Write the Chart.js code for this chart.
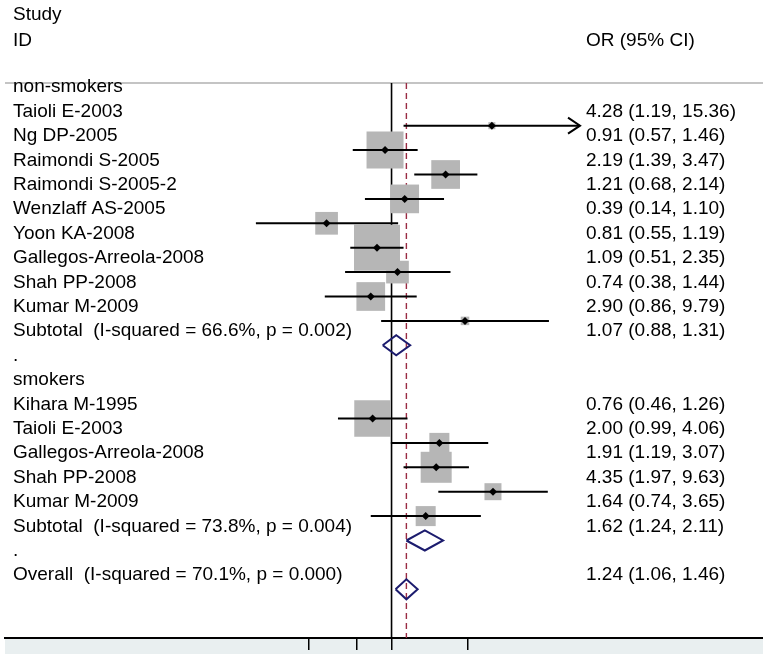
<!DOCTYPE html>
<html><head><meta charset="utf-8">
<script src="https://cdn.jsdelivr.net/npm/chart.js@4/dist/chart.umd.min.js"></script>
<style>html,body{margin:0;padding:0;background:#fff;}</style>
</head><body>
<canvas id="c" width="763" height="654"></canvas>
<script>
// ---- data ----
const groupLabels = ['non-smokers', 'smokers'];
const nsStudies = ['Taioli E-2003','Ng DP-2005','Raimondi S-2005','Raimondi S-2005-2','Wenzlaff AS-2005','Yoon KA-2008','Gallegos-Arreola-2008','Shah PP-2008','Kumar M-2009'];
const nsOR = [4.28, 0.91, 2.19, 1.21, 0.39, 0.81, 1.09, 0.74, 2.90];
const nsLo = [1.19, 0.57, 1.39, 0.68, 0.14, 0.55, 0.51, 0.38, 0.86];
const nsHi = [15.36, 1.46, 3.47, 2.14, 1.10, 1.19, 2.35, 1.44, 9.79];
const nsWeight = [0.47, 13.03, 7.84, 7.84, 4.90, 20.14, 4.90, 7.84, 0.69];
const smStudies = ['Kihara M-1995','Taioli E-2003','Gallegos-Arreola-2008','Shah PP-2008','Kumar M-2009'];
const smOR = [0.76, 2.00, 1.91, 4.35, 1.64];
const smLo = [0.46, 0.99, 1.19, 1.97, 0.74];
const smHi = [1.26, 4.06, 3.07, 9.63, 3.65];
const smWeight = [12.82, 3.81, 9.15, 2.75, 3.81];
const pooledLabels = ['Subtotal  (I-squared = 66.6%, p = 0.002)', 'Subtotal  (I-squared = 73.8%, p = 0.004)', 'Overall  (I-squared = 70.1%, p = 0.000)'];
const pooledOR = [1.07, 1.62, 1.24];
const pooledLo = [0.88, 1.24, 1.06];
const pooledHi = [1.31, 2.11, 1.46];
const xTicks = [0.3, 0.6, 1, 3];
const headers = ['Study', 'ID', 'OR (95% CI)'];
const xLimit = 15.36; // upper end of the plotted CI range (arrow beyond)

// ---- layout / style constants ----
const FONT = '19px "Liberation Sans", Arial, sans-serif';
const xMin = 0.003688, xMax = 217.9;
const yTop = -0.1066, yBottom = 22.639;
const markOffset = 0.643;
const diamondHalf = 0.41;
const boxK = 10.25;

// ---- build rows ----
const rows = [];
rows.push({text: groupLabels[0]});
nsStudies.forEach((s, i) => rows.push({text: s, or: nsOR[i], lo: nsLo[i], hi: nsHi[i], w: nsWeight[i], kind: 'study'}));
rows.push({text: pooledLabels[0], or: pooledOR[0], lo: pooledLo[0], hi: pooledHi[0], kind: 'pooled'});
rows.push({text: '.'});
rows.push({text: groupLabels[1]});
smStudies.forEach((s, i) => rows.push({text: s, or: smOR[i], lo: smLo[i], hi: smHi[i], w: smWeight[i], kind: 'study'}));
rows.push({text: pooledLabels[1], or: pooledOR[1], lo: pooledLo[1], hi: pooledHi[1], kind: 'pooled'});
rows.push({text: '.'});
rows.push({text: pooledLabels[2], or: pooledOR[2], lo: pooledLo[2], hi: pooledHi[2], kind: 'pooled'});

const datasets = [];
// reference lines
datasets.push({data: [{x: 1, y: yTop}, {x: 1, y: yBottom}], showLine: true, borderColor: '#000', borderWidth: 1.6, pointRadius: 0, order: 10});
datasets.push({data: [{x: pooledOR[2], y: yTop}, {x: pooledOR[2], y: yBottom}], showLine: true, borderColor: '#9a2c44', borderWidth: 1.4, borderDash: [6, 4], pointRadius: 0, order: 9});
// boxes
const boxData = [], boxRad = [], ptData = [];
rows.forEach((r, i) => {
  if (r.kind === 'study') {
    boxData.push({x: r.or, y: i + markOffset});
    boxRad.push(boxK * Math.sqrt(r.w) / Math.SQRT2);
    ptData.push({x: r.or, y: i + markOffset});
  }
});
datasets.push({data: boxData, pointStyle: 'rect', pointRadius: boxRad, backgroundColor: '#b6b6b6', borderWidth: 0, showLine: false, order: 8});
// CI lines
rows.forEach((r, i) => {
  if (r.kind === 'study') {
    datasets.push({data: [{x: r.lo, y: i + markOffset}, {x: Math.min(r.hi, xLimit), y: i + markOffset}], showLine: true, borderColor: '#000', borderWidth: 2, pointRadius: 0, order: 7});
  }
});
// point estimates
datasets.push({data: ptData, pointStyle: 'rectRot', pointRadius: 4, backgroundColor: '#000', borderWidth: 0, showLine: false, order: 6});
// pooled diamonds
rows.forEach((r, i) => {
  if (r.kind === 'pooled') {
    const y = i + markOffset;
    datasets.push({data: [{x: r.lo, y: y}, {x: r.or, y: y - diamondHalf}, {x: r.hi, y: y}, {x: r.or, y: y + diamondHalf}, {x: r.lo, y: y}],
      showLine: true, borderColor: '#1c1c6e', borderWidth: 2, pointRadius: 0, order: 5});
  }
});

const decor = {
  id: 'decor',
  beforeDraw(chart) {
    const {ctx, chartArea: a} = chart;
    ctx.save();
    ctx.fillStyle = '#e9eff0';
    ctx.fillRect(a.left, a.bottom, a.right - a.left, chart.height - a.bottom);
    ctx.strokeStyle = '#b0b0b0';
    ctx.lineWidth = 1.5;
    ctx.beginPath(); ctx.moveTo(a.left, a.top); ctx.lineTo(a.right, a.top); ctx.stroke();
    ctx.restore();
  },
  afterDatasetsDraw(chart) {
    const {ctx} = chart;
    const xs = chart.scales.x, ys = chart.scales.y;
    ctx.save();
    ctx.strokeStyle = '#000'; ctx.lineWidth = 2;
    rows.forEach((r, i) => {
      if (r.kind === 'study' && r.hi >= xLimit) {
        const px = xs.getPixelForValue(xLimit), py = ys.getPixelForValue(i + markOffset);
        ctx.beginPath();
        ctx.moveTo(px - 12, py - 8); ctx.lineTo(px, py); ctx.lineTo(px - 12, py + 8);
        ctx.stroke();
      }
    });
    ctx.restore();
  },
  afterDraw(chart) {
    const {ctx} = chart;
    const ys = chart.scales.y;
    ctx.save();
    ctx.font = FONT; ctx.fillStyle = '#000'; ctx.textBaseline = 'alphabetic'; ctx.textAlign = 'left';
    ctx.fillText(headers[0], 13, 20);
    ctx.fillText(headers[1], 13, 46);
    ctx.fillText(headers[2], 586, 46);
    rows.forEach((r, i) => {
      const y = ys.getPixelForValue(i) + 6.8;
      ctx.fillText(r.text, 13, y);
      if (r.or !== undefined) {
        ctx.fillText(r.or.toFixed(2) + ' (' + r.lo.toFixed(2) + ', ' + r.hi.toFixed(2) + ')', 586, y);
      }
    });
    ctx.restore();
  }
};

new Chart(document.getElementById('c'), {
  type: 'scatter',
  data: {datasets},
  options: {
    responsive: false, animation: false, events: [],
    layout: {autoPadding: false, padding: {left: 5, right: 0, top: 83, bottom: 4}},
    plugins: {legend: {display: false}, tooltip: {enabled: false}},
    scales: {
      x: {type: 'logarithmic', position: 'bottom', min: xMin, max: xMax,
        afterBuildTicks: (s) => { s.ticks = xTicks.map(v => ({value: v})); },
        ticks: {display: false},
        grid: {drawOnChartArea: false, drawTicks: true, tickLength: 12, color: '#000', lineWidth: 1.5},
        border: {display: true, color: '#000', width: 2}},
      y: {type: 'linear', display: false, reverse: true, min: yTop, max: yBottom}
    }
  },
  plugins: [decor]
});
</script>
</body></html>
